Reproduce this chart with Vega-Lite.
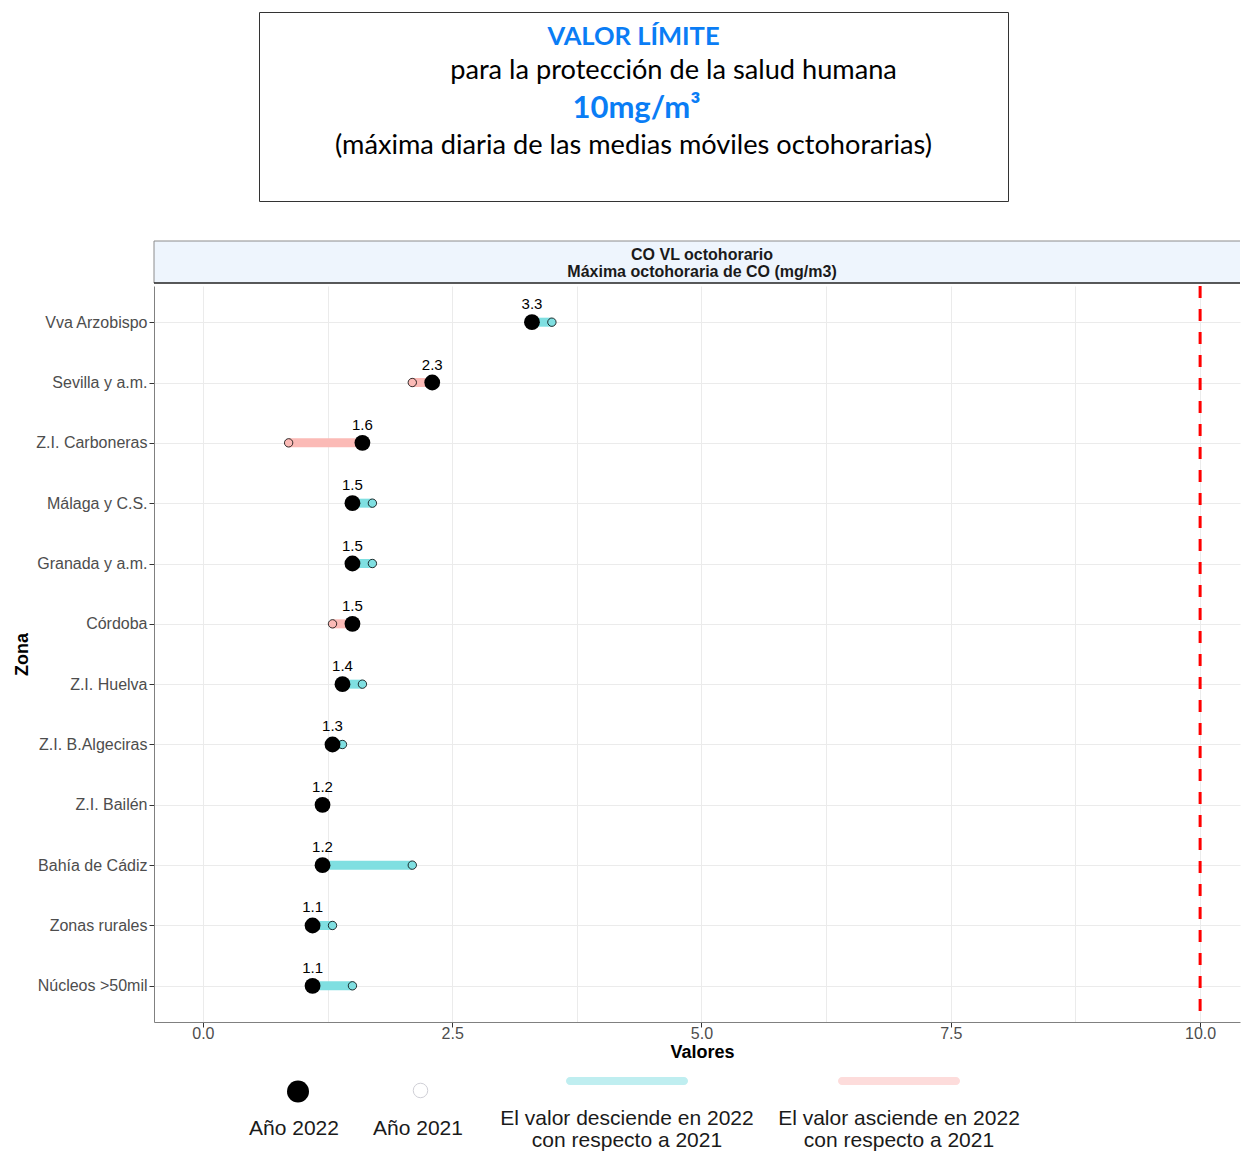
{
  "$schema": "https://vega.github.io/schema/vega-lite/v6.json",
  "usermeta": {"embedOptions": {"actions": false}},
  "padding": {"left": 13, "top": 11, "right": 0, "bottom": 0},
  "autosize": {"type": "pad"},
  "background": "white",
  "config": {
    "view": {"stroke": null},
    "font": "Liberation Sans",
    "text": {"font": "Liberation Sans"}
  },
  "datasets": {
    "zonas": [
      {"zona": "Vva Arzobispo", "v2022": 3.3, "v2021": 3.5, "cambio": "desciende"},
      {"zona": "Sevilla y a.m.", "v2022": 2.3, "v2021": 2.1, "cambio": "asciende"},
      {"zona": "Z.I. Carboneras", "v2022": 1.6, "v2021": 0.86, "cambio": "asciende"},
      {"zona": "Málaga y C.S.", "v2022": 1.5, "v2021": 1.7, "cambio": "desciende"},
      {"zona": "Granada y a.m.", "v2022": 1.5, "v2021": 1.7, "cambio": "desciende"},
      {"zona": "Córdoba", "v2022": 1.5, "v2021": 1.3, "cambio": "asciende"},
      {"zona": "Z.I. Huelva", "v2022": 1.4, "v2021": 1.6, "cambio": "desciende"},
      {"zona": "Z.I. B.Algeciras", "v2022": 1.3, "v2021": 1.4, "cambio": "desciende"},
      {"zona": "Z.I. Bailén", "v2022": 1.2, "v2021": 1.2, "cambio": "igual"},
      {"zona": "Bahía de Cádiz", "v2022": 1.2, "v2021": 2.1, "cambio": "desciende"},
      {"zona": "Zonas rurales", "v2022": 1.1, "v2021": 1.3, "cambio": "desciende"},
      {"zona": "Núcleos >50mil", "v2022": 1.1, "v2021": 1.5, "cambio": "desciende"}
    ],
    "titulo": [
      {"linea": 1, "texto": "VALOR LÍMITE"},
      {"linea": 2, "texto": "para la protección de la salud humana"},
      {"linea": 3, "texto": "10mg/m³"},
      {"linea": 4, "texto": "(máxima diaria de las medias móviles octohorarias)"}
    ]
  },
  "spacing": 0,
  "vconcat": [
    {
      "spacing": 0,
      "hconcat": [
        {"width": 104, "height": 228, "data": {"values": []}, "mark": "point", "encoding": {}},
        {
          "width": 749, "height": 189,
          "view": {"stroke": "#333333", "strokeWidth": 1},
          "data": {"name": "titulo"},
          "layer": [
            {
              "transform": [{"filter": "datum.linea == 1"}],
              "mark": {"type": "text", "font": "Lato", "fontWeight": "bold", "fontSize": 25.5, "color": "#0A7DF5", "baseline": "middle", "dy": 4},
              "encoding": {
                "y": {"field": "linea", "type": "ordinal", "scale": {"type": "point", "domain": [1, 2, 3, 4], "padding": 1.075, "align": 0.279}, "axis": null},
                "text": {"field": "texto"}
              }
            },
            {
              "transform": [{"filter": "datum.linea == 2"}],
              "mark": {"type": "text", "font": "Lato", "fontSize": 27.2, "color": "#000000", "baseline": "middle", "dx": 40},
              "encoding": {
                "y": {"field": "linea", "type": "ordinal", "axis": null},
                "text": {"field": "texto"}
              }
            },
            {
              "transform": [{"filter": "datum.linea == 3"}],
              "mark": {"type": "text", "font": "Lato", "fontWeight": "bold", "fontSize": 31, "color": "#0A7DF5", "baseline": "middle", "dx": 3},
              "encoding": {
                "y": {"field": "linea", "type": "ordinal", "axis": null},
                "text": {"field": "texto"}
              }
            },
            {
              "transform": [{"filter": "datum.linea == 4"}],
              "mark": {"type": "text", "font": "Lato", "fontSize": 27.2, "color": "#000000", "baseline": "middle"},
              "encoding": {
                "y": {"field": "linea", "type": "ordinal", "axis": null},
                "text": {"field": "texto"}
              }
            }
          ]
        }
      ]
    },
    {
      "width": 1086, "height": 42,
      "view": {"fill": "#EEF5FD", "stroke": null},
      "data": {"values": [{"titulo": "CO VL octohorario\nMáxima octohoraria de CO (mg/m3)"}]},
      "layer": [
        {"mark": {"type": "rule", "color": "#8C8C8C", "strokeWidth": 1}, "encoding": {"y": {"datum": 1, "type": "quantitative", "scale": {"domain": [0, 1]}, "axis": null}}},
        {"mark": {"type": "rule", "color": "#8C8C8C", "strokeWidth": 1}, "encoding": {"x": {"datum": 0, "type": "quantitative", "scale": {"domain": [0, 1]}, "axis": null}}},
        {"mark": {"type": "rule", "color": "#222222", "strokeWidth": 1.5}, "encoding": {"y": {"datum": 0, "type": "quantitative", "axis": null}}},
        {"mark": {"type": "text", "fontWeight": "bold", "fontSize": 16, "lineBreak": "\n", "lineHeight": 17, "color": "#1A1A1A", "baseline": "middle", "dx": 5, "dy": -7}, "encoding": {"text": {"field": "titulo"}}}
      ]
    },
    {
      "width": 1086, "height": 736,
      "data": {"name": "zonas"},
      "layer": [
        {
          "data": {"values": [{"limite": 10}]},
          "mark": {"type": "rule", "color": "#FF0000", "strokeWidth": 3, "strokeDash": [12, 11]},
          "encoding": {
            "x": {
              "field": "limite", "type": "quantitative", "title": "Valores",
              "scale": {"domain": [-0.49, 10.4], "nice": false, "zero": false},
              "axis": {
                "values": [0, 1.25, 2.5, 3.75, 5, 6.25, 7.5, 8.75, 10],
                "labelExpr": "datum.value % 2.5 === 0 ? format(datum.value, '.1f') : ''",
                "tickOpacity": {"condition": {"test": "datum.value % 2.5 === 0", "value": 1}, "value": 0},
                "labelOverlap": false,
                "grid": true, "gridColor": "#EBEBEB", "gridWidth": 1,
                "domainColor": "#808080", "tickColor": "#333333", "tickSize": 5,
                "labelPadding": -2, "labelColor": "#4D4D4D", "labelFontSize": 16,
                "titleFontSize": 18, "titleFontWeight": "bold", "titleColor": "#000000", "titlePadding": 2, "titleX": 548
              }
            }
          }
        },
        {
          "mark": {"type": "rule", "strokeWidth": 9, "strokeCap": "butt"},
          "encoding": {
            "x": {"field": "v2022", "type": "quantitative", "title": "Valores"},
            "x2": {"field": "v2021"},
            "y": {
              "field": "zona", "type": "nominal", "title": "Zona",
              "sort": ["Vva Arzobispo", "Sevilla y a.m.", "Z.I. Carboneras", "Málaga y C.S.", "Granada y a.m.", "Córdoba", "Z.I. Huelva", "Z.I. B.Algeciras", "Z.I. Bailén", "Bahía de Cádiz", "Zonas rurales", "Núcleos >50mil"],
              "scale": {"type": "point", "padding": 0.6},
              "axis": {
                "grid": true, "gridColor": "#EBEBEB",
                "domainColor": "#808080", "tickColor": "#333333", "tickSize": 5,
                "labelPadding": 2, "labelColor": "#4D4D4D", "labelFontSize": 16,
                "titleFontSize": 18, "titleFontWeight": "bold", "titleColor": "#000000", "titlePadding": 4
              }
            },
            "color": {"field": "cambio", "type": "nominal", "scale": {"domain": ["desciende", "asciende", "igual"], "range": ["#7FDFE1", "#FBBAB6", "#7FDFE1"]}, "legend": null}
          }
        },
        {
          "mark": {"type": "point", "filled": true, "size": 70, "opacity": 1, "stroke": "#000000", "strokeWidth": 0.8},
          "encoding": {
            "x": {"field": "v2021", "type": "quantitative", "title": "Valores"},
            "y": {"field": "zona", "type": "nominal", "title": "Zona", "sort": ["Vva Arzobispo", "Sevilla y a.m.", "Z.I. Carboneras", "Málaga y C.S.", "Granada y a.m.", "Córdoba", "Z.I. Huelva", "Z.I. B.Algeciras", "Z.I. Bailén", "Bahía de Cádiz", "Zonas rurales", "Núcleos >50mil"]},
            "fill": {"field": "cambio", "type": "nominal", "scale": {"domain": ["desciende", "asciende", "igual"], "range": ["#7FDFE1", "#FBBAB6", "#7FDFE1"]}, "legend": null}
          }
        },
        {
          "mark": {"type": "point", "filled": true, "size": 250, "opacity": 1, "color": "#000000"},
          "encoding": {
            "x": {"field": "v2022", "type": "quantitative", "title": "Valores"},
            "y": {"field": "zona", "type": "nominal", "title": "Zona", "sort": ["Vva Arzobispo", "Sevilla y a.m.", "Z.I. Carboneras", "Málaga y C.S.", "Granada y a.m.", "Córdoba", "Z.I. Huelva", "Z.I. B.Algeciras", "Z.I. Bailén", "Bahía de Cádiz", "Zonas rurales", "Núcleos >50mil"]}
          }
        },
        {
          "mark": {"type": "text", "fontSize": 15, "color": "#000000", "dy": -18, "baseline": "middle"},
          "encoding": {
            "x": {"field": "v2022", "type": "quantitative", "title": "Valores"},
            "y": {"field": "zona", "type": "nominal", "title": "Zona", "sort": ["Vva Arzobispo", "Sevilla y a.m.", "Z.I. Carboneras", "Málaga y C.S.", "Granada y a.m.", "Córdoba", "Z.I. Huelva", "Z.I. B.Algeciras", "Z.I. Bailén", "Bahía de Cádiz", "Zonas rurales", "Núcleos >50mil"]},
            "text": {"field": "v2022", "type": "quantitative", "format": ".1f"}
          }
        }
      ]
    },
    {
      "spacing": 0,
      "hconcat": [
        {"width": 90, "height": 85, "data": {"values": []}, "mark": "point", "encoding": {}},
        {
          "width": 100, "height": 85,
          "data": {"values": [{"etiqueta": "Año 2022"}]},
          "layer": [
            {
              "mark": {"type": "point", "shape": "circle", "filled": true, "opacity": 1, "color": "#000000", "size": 484, "xOffset": 4, "yOffset": 0.5},
              "encoding": {"y": {"datum": "s", "type": "nominal", "scale": {"type": "point", "domain": ["s", "t"], "padding": 0.618, "align": 0.638}, "axis": null}}
            },
            {
              "mark": {"type": "text", "fontSize": 21, "color": "#1A1A1A", "baseline": "middle"},
              "encoding": {"y": {"datum": "t", "type": "nominal"}, "text": {"field": "etiqueta"}}
            }
          ]
        },
        {
          "width": 148, "height": 85,
          "data": {"values": [{"etiqueta": "Año 2021"}]},
          "layer": [
            {
              "mark": {"type": "point", "shape": "circle", "filled": true, "opacity": 1, "fill": "#FFFFFF", "stroke": "#CFCFD6", "strokeWidth": 1, "size": 210, "xOffset": 2.5, "yOffset": -0.5},
              "encoding": {"y": {"datum": "s", "type": "nominal", "scale": {"type": "point", "domain": ["s", "t"], "padding": 0.618, "align": 0.638}, "axis": null}}
            },
            {
              "mark": {"type": "text", "fontSize": 21, "color": "#1A1A1A", "baseline": "middle"},
              "encoding": {"y": {"datum": "t", "type": "nominal"}, "text": {"field": "etiqueta"}}
            }
          ]
        },
        {
          "width": 270, "height": 85,
          "data": {"values": [{"etiqueta": "El valor desciende en 2022\ncon respecto a 2021"}]},
          "layer": [
            {
              "mark": {"type": "tick", "orient": "horizontal", "size": 122, "thickness": 8, "cornerRadius": 4, "opacity": 1, "color": "#BFEEF0", "yOffset": -10},
              "encoding": {"y": {"datum": "s", "type": "nominal", "scale": {"type": "point", "domain": ["s", "t"], "padding": 0.618, "align": 0.638}, "axis": null}}
            },
            {
              "mark": {"type": "text", "fontSize": 21, "color": "#1A1A1A", "baseline": "middle", "lineBreak": "\n", "lineHeight": 22, "dy": -10},
              "encoding": {"y": {"datum": "t", "type": "nominal"}, "text": {"field": "etiqueta"}}
            }
          ]
        },
        {
          "width": 274, "height": 85,
          "data": {"values": [{"etiqueta": "El valor asciende en 2022\ncon respecto a 2021"}]},
          "layer": [
            {
              "mark": {"type": "tick", "orient": "horizontal", "size": 122, "thickness": 8, "cornerRadius": 4, "opacity": 1, "color": "#FDDCDB", "yOffset": -10},
              "encoding": {"y": {"datum": "s", "type": "nominal", "scale": {"type": "point", "domain": ["s", "t"], "padding": 0.618, "align": 0.638}, "axis": null}}
            },
            {
              "mark": {"type": "text", "fontSize": 21, "color": "#1A1A1A", "baseline": "middle", "lineBreak": "\n", "lineHeight": 22, "dy": -10},
              "encoding": {"y": {"datum": "t", "type": "nominal"}, "text": {"field": "etiqueta"}}
            }
          ]
        }
      ]
    }
  ]
}
